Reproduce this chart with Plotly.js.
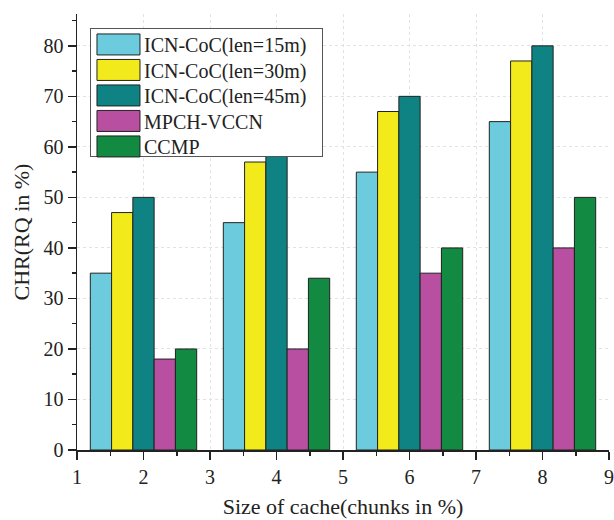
<!DOCTYPE html>
<html><head><meta charset="utf-8">
<script src="https://cdn.plot.ly/plotly-3.0.1.min.js"></script>
<style>body{margin:0;background:#fff}#c{width:614px;height:520px}</style>
</head><body><div id="c"></div>
<script>
const cacheSizes = [2, 4, 6, 8];
const seriesNames = ["ICN-CoC(len=15m)", "ICN-CoC(len=30m)", "ICN-CoC(len=45m)", "MPCH-VCCN", "CCMP"];
const len15 = [35, 45, 55, 65];
const len30 = [47, 57, 67, 77];
const len45 = [50, 60, 70, 80];
const mpch = [18, 20, 35, 40];
const ccmp = [20, 34, 40, 50];
const seriesValues = [len15, len30, len45, mpch, ccmp];
const colors = ["#6ccbdc", "#f2ea1a", "#0f8383", "#b84fa0", "#128a42"];
const font = "'Liberation Serif', 'Times New Roman', serif";

const traces = seriesValues.map((v, i) => ({
  type: "bar", x: cacheSizes, y: v, name: seriesNames[i],
  marker: {color: colors[i], line: {color: "#222", width: 1}}
}));

const layout = {
  width: 614, height: 520,
  margin: {l: 77, r: 5, t: 14, b: 70},
  paper_bgcolor: "#fff", plot_bgcolor: "#fff",
  barmode: "group", bargap: 0.2, bargroupgap: 0,
  font: {family: font, size: 20, color: "#222"},
  xaxis: {
    range: [1, 9], dtick: 1, tick0: 1, showline: true, linecolor: "#222", linewidth: 1.5,
    ticks: "outside", ticklen: 8, tickwidth: 1.5, tickcolor: "#222",
    showgrid: true, gridcolor: "#e2e2e2", griddash: "dot", zeroline: false,
    minor: {dtick: 0.5, ticks: "outside", ticklen: 4, tickcolor: "#222", showgrid: false},
    tickfont: {family: font, size: 20},
    title: {text: "Size of cache(chunks in %)", font: {family: font, size: 22}, standoff: 12}
  },
  yaxis: {
    range: [0, 86.3], dtick: 10, showline: true, linecolor: "#222", linewidth: 1.5,
    ticks: "outside", ticklen: 8, tickwidth: 1.5, tickcolor: "#222",
    showgrid: true, gridcolor: "#e2e2e2", griddash: "dot", zeroline: false,
    minor: {dtick: 5, ticks: "outside", ticklen: 4, tickcolor: "#222", showgrid: false},
    tickfont: {family: font, size: 20},
    title: {text: "CHR(RQ in %)", font: {family: font, size: 22}, standoff: 8}
  },
  legend: {
    x: 0.0244, y: 0.968, xanchor: "left", yanchor: "top",
    bgcolor: "#fff", bordercolor: "#555", borderwidth: 1,
    font: {family: font, size: 20, color: "#222"}, tracegroupgap: 0, itemwidth: 43
  },
  showlegend: true
};

Plotly.newPlot("c", traces, layout, {displayModeBar: false, staticPlot: true}).then(gd => {
  const leg = gd.querySelector("g.legend");
  if (!leg) return;
  const items = Array.from(leg.querySelectorAll("g.traces"));
  const parse = t => { const m = /translate\(\s*([-\d.]+)[ ,]+([-\d.]+)/.exec(t || ""); return m ? [+m[1], +m[2]] : [0, 0]; };
  if (items.length < 2) return;
  const p0 = parse(items[0].getAttribute("transform"));
  const p1 = parse(items[1].getAttribute("transform"));
  const origStep = p1[1] - p0[1];
  const step = 25.5;
  const shift = 4;
  items.forEach((g, i) => {
    const p = parse(g.getAttribute("transform"));
    g.setAttribute("transform", `translate(${p[0]},${p0[1] - shift + i * step})`);
    const lp = g.querySelector("g.legendpoints");
    if (lp) {
      lp.setAttribute("transform", "");
      lp.querySelectorAll("path").forEach(path => {
        path.setAttribute("d", "M21.5,10.5H-21.5V-10.5H21.5Z");
        path.setAttribute("transform", `translate(${28.5 - p[0]},0)`);
      });
    }
  });
  const bg = leg.querySelector("rect.bg");
  if (bg) {
    const h = +bg.getAttribute("height");
    const w = +bg.getAttribute("width");
    bg.setAttribute("height", h - items.length * (origStep - step) - 2 * shift - 2);
    bg.setAttribute("width", w + 10);
  }
});
</script></body></html>
